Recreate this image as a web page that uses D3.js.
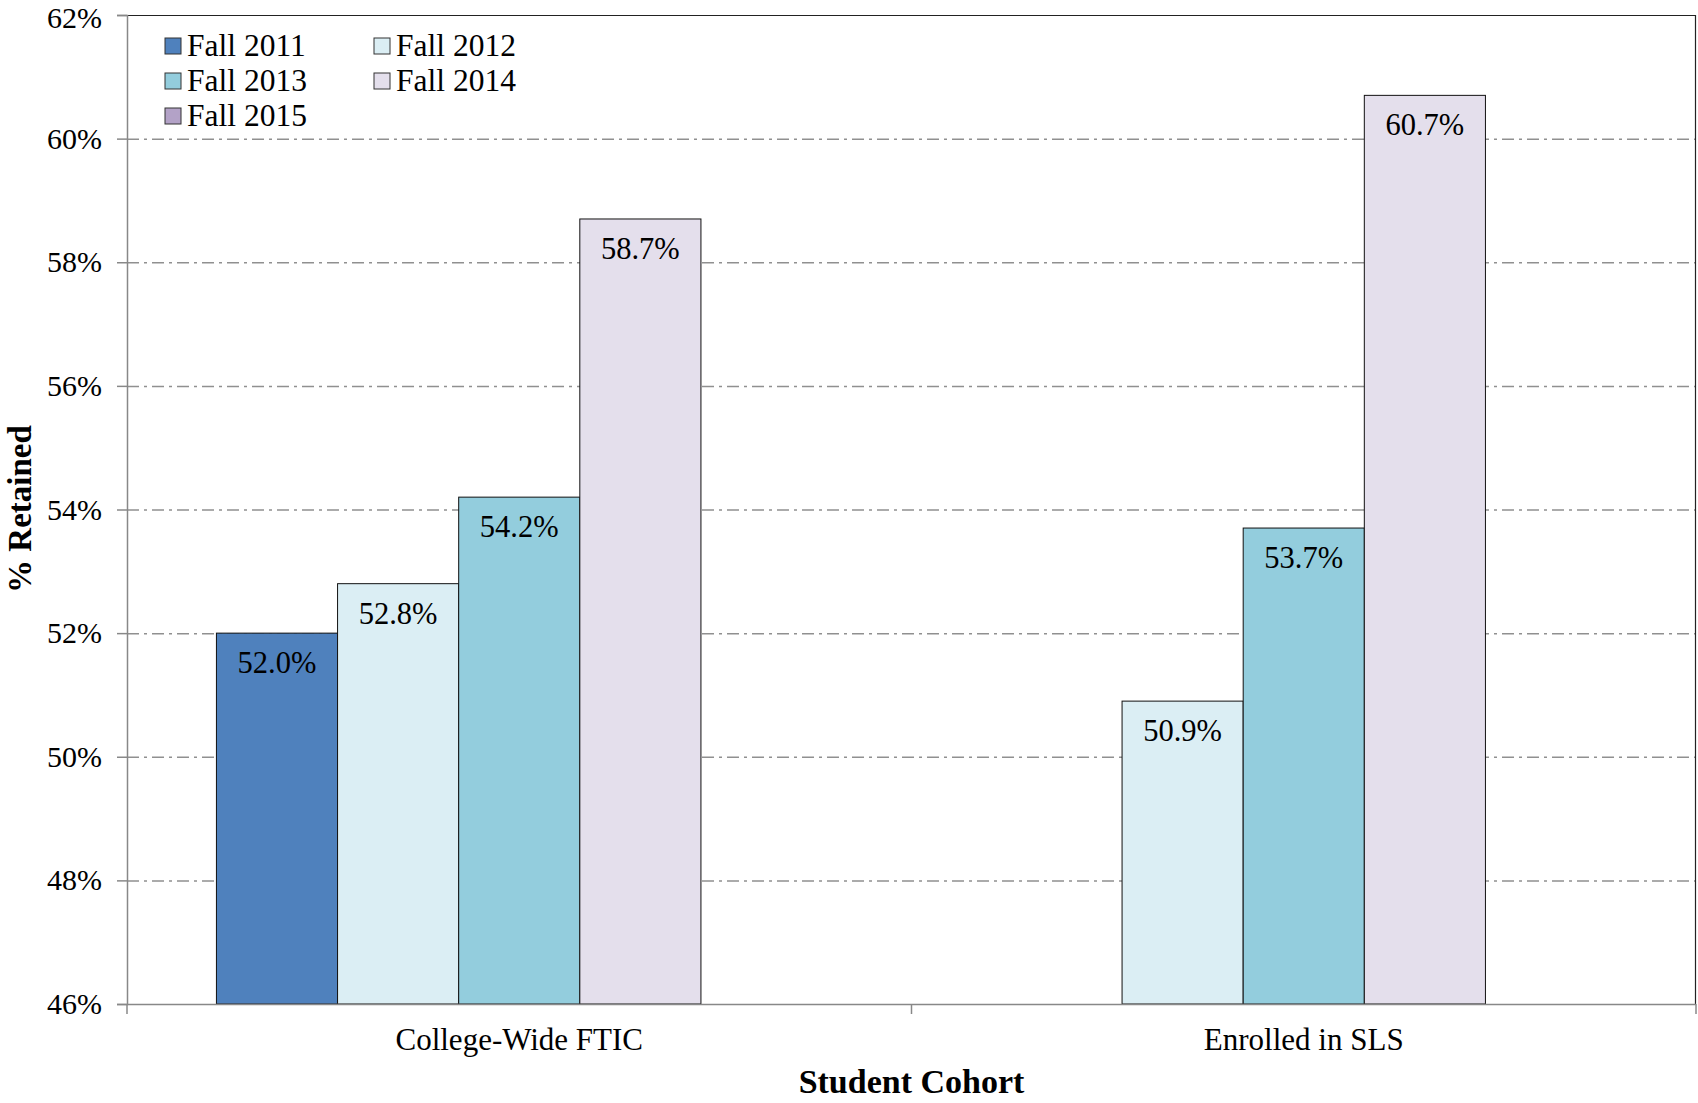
<!DOCTYPE html>
<html>
<head>
<meta charset="utf-8">
<script src="https://cdn.jsdelivr.net/npm/d3@7"></script>
<style>
  body { margin: 0; background: #fff; }
  text { font-family: "Liberation Serif", "Times New Roman", serif; fill: #000; }
</style>
</head>
<body>
<script>
(function () {
  'use strict'

  var categories = ['College-Wide FTIC', 'Enrolled in SLS']
  var series = ['Fall 2011', 'Fall 2012', 'Fall 2013', 'Fall 2014', 'Fall 2015']
  var colors = ['#4F81BD', '#DBEEF4', '#93CDDD', '#E4DFEC', '#B3A2C7']
  // values per category, one entry per series (null = no bar)
  var collegeWide = [52.0, 52.8, 54.2, 58.7, null]
  var enrolledSLS = [null, 50.9, 53.7, 60.7, null]
  var yTicks = [46, 48, 50, 52, 54, 56, 58, 60, 62]

  var values = [collegeWide, enrolledSLS]

  var w = 1698
  var h = 1103
  var left = 127
  var right = 1696
  var top = 15
  var bottom = 1004

  var svg = d3.select('body').append('svg')
    .attr('width', w)
    .attr('height', h)

  var y = d3.scaleLinear().domain([46, 62]).range([bottom, top])
  var x0 = d3.scaleBand().domain(categories).range([left, right])
    .paddingInner(0.228).paddingOuter(0.114)
  var x1 = d3.scaleBand().domain(series).range([0, x0.bandwidth()])

  // gridlines
  svg.append('g').selectAll('line')
    .data(yTicks.filter(function (d) { return d > 46 && d < 62 }))
    .enter().append('line')
      .attr('x1', left).attr('x2', right)
      .attr('y1', function (d) { return y(d) + 0.5 })
      .attr('y2', function (d) { return y(d) + 0.5 })
      .attr('stroke', '#909090')
      .attr('stroke-width', 1.5)
      .attr('stroke-dasharray', '12,5,3,5')

  // plot frame top / right
  svg.append('line')
    .attr('x1', left).attr('x2', right)
    .attr('y1', top + 0.5).attr('y2', top + 0.5)
    .attr('stroke', '#222').attr('stroke-width', 1.2)
  svg.append('line')
    .attr('x1', right - 0.5).attr('x2', right - 0.5)
    .attr('y1', top).attr('y2', bottom)
    .attr('stroke', '#222').attr('stroke-width', 1.2)

  // bars
  var groups = svg.append('g').selectAll('g')
    .data(categories)
    .enter().append('g')
      .attr('transform', function (d) { return 'translate(' + x0(d) + ',0)' })

  var barData = function (d, i) {
    return series.map(function (s, j) {
      return { s: s, v: values[i][j], c: colors[j] }
    }).filter(function (e) { return e.v !== null })
  }

  groups.selectAll('rect')
    .data(barData)
    .enter().append('rect')
      .attr('x', function (d) { return x1(d.s) })
      .attr('y', function (d) { return y(d.v) })
      .attr('width', x1.bandwidth())
      .attr('height', function (d) { return y(46) - y(d.v) })
      .attr('fill', function (d) { return d.c })
      .attr('stroke', '#111')
      .attr('stroke-width', 1)

  groups.selectAll('text')
    .data(barData)
    .enter().append('text')
      .attr('x', function (d) { return x1(d.s) + x1.bandwidth() / 2 })
      .attr('y', function (d) { return y(d.v) + 40 })
      .attr('text-anchor', 'middle')
      .style('font-size', '30.5px')
      .text(function (d) { return d.v.toFixed(1) + '%' })

  // y axis
  var yAxis = svg.append('g')
    .attr('transform', 'translate(' + left + ',0)')
    .call(d3.axisLeft(y).tickValues(yTicks).tickSize(10).tickPadding(15)
      .tickFormat(function (d) { return d + '%' }))
  yAxis.select('.domain').attr('stroke', '#888').attr('stroke-width', 1.5)
  yAxis.selectAll('.tick line').attr('stroke', '#888').attr('stroke-width', 1.5)
  yAxis.selectAll('.tick text')
    .style('font-size', '30px')
    .attr('font-family', null)
    .attr('fill', '#000')
  // keep the top label inside the page
  yAxis.selectAll('.tick text')
    .filter(function (d) { return d === 62 })
    .attr('dy', '0.42em')

  // x axis
  var xAxis = svg.append('g')
    .attr('transform', 'translate(0,' + bottom + ')')
    .call(d3.axisBottom(x0).tickSize(0).tickPadding(24))
  xAxis.select('.domain').remove()
  xAxis.selectAll('.tick text')
    .style('font-size', '31px')
    .attr('font-family', null)
    .attr('fill', '#000')
  svg.append('line')
    .attr('x1', left).attr('x2', right)
    .attr('y1', bottom + 0.5).attr('y2', bottom + 0.5)
    .attr('stroke', '#888').attr('stroke-width', 1.5)
  // category boundary ticks
  var bounds = [left, (x0(categories[0]) + x0.bandwidth() + x0(categories[1])) / 2, right]
  svg.append('g').selectAll('line')
    .data(bounds)
    .enter().append('line')
      .attr('x1', function (d) { return d }).attr('x2', function (d) { return d })
      .attr('y1', bottom).attr('y2', bottom + 10)
      .attr('stroke', '#888').attr('stroke-width', 1.5)

  // axis titles
  svg.append('text')
    .attr('x', (left + right) / 2)
    .attr('y', 1093)
    .attr('text-anchor', 'middle')
    .style('font-size', '34px')
    .style('font-weight', 'bold')
    .text('Student Cohort')

  svg.append('text')
    .attr('transform', 'translate(31,' + 509 + ') rotate(-90)')
    .attr('text-anchor', 'middle')
    .style('font-size', '33px')
    .style('font-weight', 'bold')
    .text('% Retained')

  // legend
  var legend = svg.append('g').selectAll('g')
    .data(series)
    .enter().append('g')
      .attr('transform', function (d, i) {
        var col = i % 2
        var row = Math.floor(i / 2)
        return 'translate(' + (165 + col * 209) + ',' + (38 + row * 35) + ')'
      })
  legend.append('rect')
    .attr('width', 16).attr('height', 16)
    .attr('fill', function (d, i) { return colors[i] })
    .attr('stroke', '#333').attr('stroke-width', 1)
  legend.append('text')
    .attr('x', 22)
    .attr('y', 18)
    .style('font-size', '31.5px')
    .text(function (d) { return d })
}())
</script>
</body>
</html>
